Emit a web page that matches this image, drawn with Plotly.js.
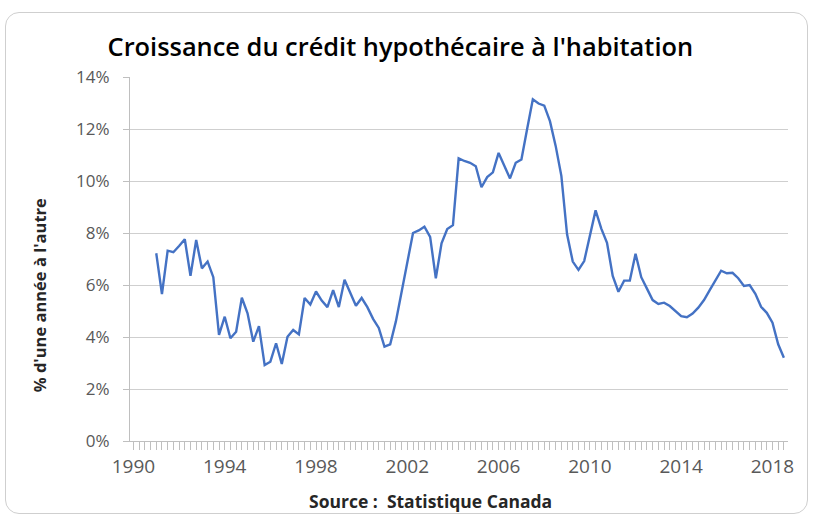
<!DOCTYPE html>
<html>
<head>
<meta charset="utf-8">
<script src="https://cdn.plot.ly/plotly-3.0.1.min.js"></script>
<style>
  html, body { margin: 0; padding: 0; background: #ffffff; }
  #frame { position: absolute; left: 5px; top: 12px; width: 803px; height: 502px;
           border: 1.5px solid #cfcfcf; border-radius: 14px; box-sizing: border-box; }
  #chart { position: absolute; left: 0; top: 0; width: 817px; height: 525px; }
</style>
</head>
<body>
<div id="frame"></div>
<div id="chart"></div>
<script>
// Quarterly year-over-year growth of residential mortgage credit (%), starting 1991 Q1
const startYear = 1991;
const growth = [
  7.22, 5.65, 7.32, 7.26, 7.50, 7.76, 6.35, 7.73, 6.64, 6.90,
  6.30, 4.08, 4.78, 3.95, 4.20, 5.51, 4.91, 3.82, 4.42, 2.92,
  3.05, 3.76, 2.96, 4.01, 4.27, 4.10, 5.50, 5.25, 5.75, 5.40,
  5.15, 5.80, 5.15, 6.20, 5.70, 5.20, 5.50, 5.15, 4.70, 4.35,
  3.63, 3.72, 4.60, 5.70, 6.90, 8.00, 8.10, 8.24, 7.85, 6.26,
  7.60, 8.15, 8.30, 10.87, 10.77, 10.70, 10.57, 9.76, 10.15, 10.33,
  11.08, 10.60, 10.10, 10.70, 10.83, 12.00, 13.14, 12.98, 12.90, 12.30,
  11.35, 10.20, 7.95, 6.90, 6.58, 6.92, 7.90, 8.87, 8.17, 7.62,
  6.35, 5.74, 6.17, 6.17, 7.20, 6.30, 5.86, 5.42, 5.27, 5.32,
  5.19, 5.00, 4.80, 4.76, 4.90, 5.13, 5.42, 5.80, 6.20, 6.55,
  6.45, 6.47, 6.26, 5.96, 6.00, 5.66, 5.16, 4.93, 4.55, 3.72,
  3.20
];
const quarterTimes = growth.map((_, i) => startYear + i * 0.25);
const firstYearTick = 1990;
const yearTickStep = 4;
const pctTicks = [0, 2, 4, 6, 8, 10, 12, 14];
const pctLabels = ['0%', '2%', '4%', '6%', '8%', '10%', '12%', '14%'];

const titleText = "Croissance du crédit hypothécaire à l'habitation";
const yTitleText = "% d'une année à l'autre";
const xTitleText = "Source :  Statistique Canada";

const axisGrey = '#bfbfbf';
const labelGrey = '#595959';
const fontFam = '"Open Sans", "Liberation Sans", sans-serif';

const trace = {
  x: quarterTimes,
  y: growth,
  type: 'scatter',
  mode: 'lines',
  line: { color: '#4472C4', width: 2.4 },
  hoverinfo: 'x+y'
};

const layout = {
  width: 817, height: 525,
  paper_bgcolor: 'rgba(0,0,0,0)',
  plot_bgcolor: '#ffffff',
  margin: { l: 130, r: 29, t: 77, b: 84 },
  showlegend: false,
  title: {
    text: titleText,
    x: 0.49, xanchor: 'center', y: 0.91, yanchor: 'middle',
    font: { family: fontFam, size: 25.4, weight: 600, color: '#000000' }
  },
  xaxis: {
    range: [1989.85, 2018.68],
    tickmode: 'linear', tick0: firstYearTick, dtick: yearTickStep,
    ticks: 'outside', ticklen: 8, tickcolor: axisGrey, tickwidth: 1,
    minor: { tickmode: 'linear', tick0: firstYearTick, dtick: 0.25, ticks: 'outside', ticklen: 8, tickcolor: axisGrey, tickwidth: 1, showgrid: false },
    showgrid: false, zeroline: false,
    showline: true, linecolor: axisGrey, linewidth: 1,
    tickfont: { family: fontFam, size: 19, color: labelGrey },
    fixedrange: true
  },
  yaxis: {
    range: [0, 14],
    tickmode: 'array',
    tickvals: pctTicks,
    ticktext: pctLabels,
    ticks: 'outside', ticklen: 6, tickcolor: axisGrey,
    ticklabelstandoff: 10,
    showgrid: true, gridcolor: '#cfcfcf', gridwidth: 1,
    zeroline: false,
    showline: true, linecolor: axisGrey, linewidth: 1,
    tickfont: { family: fontFam, size: 17, color: labelGrey },
    fixedrange: true
  },
  annotations: [
    {
      text: '<b>' + yTitleText + '</b>',
      xref: 'paper', yref: 'paper', x: -0.137, y: 0.40,
      xanchor: 'center', yanchor: 'middle', textangle: -90, showarrow: false,
      font: { family: fontFam, size: 16.5, color: '#262626' }
    },
    {
      text: '<b>' + xTitleText + '</b>',
      xref: 'paper', yref: 'paper', x: 0.456, y: -0.165,
      xanchor: 'center', yanchor: 'middle', showarrow: false,
      font: { family: fontFam, size: 17.5, color: '#262626' }
    }
  ]
};

Plotly.newPlot('chart', [trace], layout, { displayModeBar: false, staticPlot: true });
</script>
</body>
</html>
